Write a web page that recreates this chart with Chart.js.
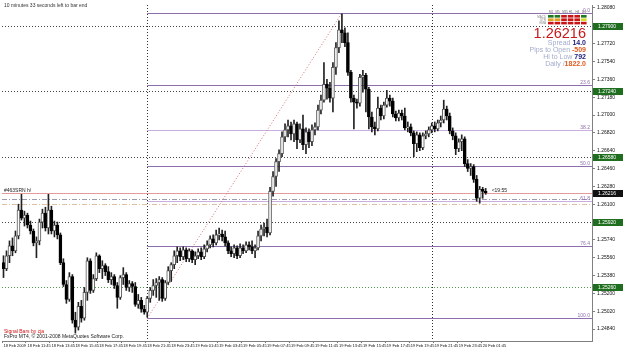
<!DOCTYPE html>
<html><head><meta charset="utf-8">
<script src="https://cdn.jsdelivr.net/npm/chart.js@4/dist/chart.umd.min.js"></script>
<style>html,body{margin:0;padding:0;background:#fff;overflow:hidden}</style>
</head><body>
<canvas id="c" width="625" height="350"></canvas>
<script>
// ---------- DATA ----------
const timeLabels = ['18 Feb 2009','18 Feb 11:45','18 Feb 13:45','18 Feb 15:45','18 Feb 17:45','18 Feb 19:45','18 Feb 21:45','18 Feb 23:45',
 '19 Feb 01:45','19 Feb 03:45','19 Feb 05:45','19 Feb 07:45','19 Feb 09:45','19 Feb 11:45','19 Feb 13:45','19 Feb 15:45',
 '19 Feb 17:45','19 Feb 19:45','19 Feb 21:45','19 Feb 23:45','20 Feb 01:45'];
const barsPerLabel = 8;
const totalSlots = 197;

const opens = [1.2551,1.2545,1.2558,1.2568,1.2563,1.2578,1.2604,1.2596,1.2599,1.2589,
1.2583,1.2571,1.2573,1.2592,1.2601,1.2586,1.2604,1.2583,1.2589,1.2579,
1.2551,1.2529,1.2514,1.2537,1.2493,1.2486,1.2507,1.2495,1.2521,1.2553,
1.2523,1.2535,1.2558,1.2545,1.2548,1.2542,1.2534,1.2537,1.2528,1.2516,
1.2536,1.2539,1.2526,1.2530,1.2527,1.2509,1.2513,1.2504,1.2501,1.2515,
1.2523,1.2528,1.2531,1.2534,1.2515,1.2531,1.2543,1.2549,1.2558,1.2563,
1.2557,1.2564,1.2555,1.2563,1.2554,1.2558,1.2562,1.2557,1.2565,1.2569,
1.2575,1.2571,1.2579,1.2580,1.2577,1.2571,1.2563,1.2560,1.2566,1.2558,
1.2566,1.2563,1.2569,1.2567,1.2563,1.2566,1.2578,1.2585,1.2587,1.2581,
1.2623,1.2638,1.2653,1.2661,1.2678,1.2685,1.2689,1.2681,1.2691,1.2675,
1.2686,1.2670,1.2683,1.2673,1.2685,1.2688,1.2705,1.2715,1.2731,1.2727,
1.2717,1.2748,1.2768,1.2786,1.2783,1.2773,1.2743,1.2717,1.2713,1.2712,
1.2738,1.2740,1.2726,1.2698,1.2688,1.2686,1.2707,1.2699,1.2710,1.2717,
1.2714,1.2701,1.2697,1.2702,1.2699,1.2687,1.2688,1.2682,1.2671,1.2680,
1.2667,1.2679,1.2681,1.2685,1.2689,1.2686,1.2692,1.2695,1.2706,1.2699,
1.2684,1.2679,1.2666,1.2673,1.2676,1.2651,1.2646,1.2648,1.2635,1.2616,
1.2625,1.2623];
const highs = [1.2558,1.2563,1.2573,1.2576,1.2583,1.2610,1.2620,1.2603,1.2601,1.2593,
1.2585,1.2577,1.2595,1.2605,1.2607,1.2620,1.2608,1.2593,1.2592,1.2581,
1.2555,1.2533,1.2541,1.2539,1.2501,1.2511,1.2513,1.2526,1.2556,1.2555,
1.2539,1.2561,1.2559,1.2553,1.2550,1.2547,1.2541,1.2539,1.2531,1.2538,
1.2546,1.2541,1.2533,1.2532,1.2531,1.2519,1.2516,1.2508,1.2517,1.2526,
1.2534,1.2535,1.2537,1.2536,1.2533,1.2547,1.2551,1.2563,1.2567,1.2566,
1.2567,1.2566,1.2565,1.2564,1.2562,1.2565,1.2566,1.2569,1.2573,1.2578,
1.2579,1.2584,1.2586,1.2584,1.2583,1.2573,1.2567,1.2569,1.2568,1.2570,
1.2569,1.2572,1.2572,1.2573,1.2569,1.2583,1.2589,1.2591,1.2595,1.2627,
1.2643,1.2656,1.2665,1.2683,1.2691,1.2695,1.2693,1.2695,1.2693,1.2691,
1.2700,1.2687,1.2686,1.2690,1.2692,1.2710,1.2720,1.2753,1.2736,1.2733,
1.2753,1.2773,1.2795,1.2802,1.2788,1.2783,1.2745,1.2720,1.2716,1.2741,
1.2745,1.2742,1.2728,1.2703,1.2693,1.2718,1.2710,1.2713,1.2725,1.2720,
1.2717,1.2704,1.2705,1.2705,1.2707,1.2693,1.2691,1.2684,1.2683,1.2682,
1.2682,1.2684,1.2688,1.2692,1.2693,1.2695,1.2699,1.2715,1.2709,1.2702,
1.2687,1.2682,1.2676,1.2680,1.2678,1.2655,1.2651,1.2650,1.2639,1.2628,
1.2627,1.2626];
const lows = [1.2536,1.2543,1.2551,1.2558,1.2561,1.2575,1.2594,1.2588,1.2586,1.2580,
1.2568,1.2556,1.2569,1.2586,1.2583,1.2580,1.2580,1.2577,1.2575,1.2549,
1.2527,1.2510,1.2512,1.2490,1.2480,1.2483,1.2491,1.2493,1.2513,1.2520,
1.2521,1.2533,1.2541,1.2535,1.2538,1.2531,1.2529,1.2525,1.2505,1.2514,
1.2529,1.2523,1.2522,1.2521,1.2507,1.2505,1.2501,1.2499,1.2496,1.2511,
1.2518,1.2516,1.2513,1.2512,1.2513,1.2529,1.2532,1.2545,1.2551,1.2553,
1.2554,1.2552,1.2552,1.2551,1.2549,1.2555,1.2554,1.2555,1.2562,1.2566,
1.2567,1.2569,1.2574,1.2573,1.2568,1.2560,1.2557,1.2556,1.2555,1.2556,
1.2560,1.2561,1.2564,1.2560,1.2556,1.2564,1.2573,1.2578,1.2577,1.2579,
1.2618,1.2628,1.2643,1.2658,1.2673,1.2678,1.2675,1.2673,1.2666,1.2672,
1.2665,1.2661,1.2667,1.2669,1.2680,1.2685,1.2701,1.2713,1.2716,1.2713,
1.2703,1.2741,1.2763,1.2773,1.2769,1.2740,1.2713,1.2686,1.2707,1.2709,
1.2723,1.2703,1.2686,1.2683,1.2680,1.2684,1.2695,1.2696,1.2708,1.2709,
1.2698,1.2694,1.2694,1.2695,1.2685,1.2683,1.2679,1.2658,1.2663,1.2664,
1.2665,1.2676,1.2678,1.2682,1.2683,1.2684,1.2688,1.2692,1.2695,1.2681,
1.2675,1.2660,1.2663,1.2664,1.2648,1.2643,1.2639,1.2632,1.2613,1.2611,
1.2616,1.2620];
const closes = [1.2545,1.2558,1.2568,1.2563,1.2578,1.2604,1.2596,1.2599,1.2589,1.2583,
1.2571,1.2573,1.2592,1.2601,1.2586,1.2604,1.2583,1.2589,1.2579,1.2551,
1.2529,1.2514,1.2537,1.2493,1.2486,1.2507,1.2495,1.2521,1.2553,1.2523,
1.2535,1.2558,1.2545,1.2548,1.2542,1.2534,1.2537,1.2528,1.2516,1.2536,
1.2539,1.2526,1.2530,1.2527,1.2509,1.2513,1.2504,1.2501,1.2515,1.2523,
1.2528,1.2531,1.2534,1.2515,1.2531,1.2543,1.2549,1.2558,1.2563,1.2557,
1.2564,1.2555,1.2563,1.2554,1.2558,1.2562,1.2557,1.2565,1.2569,1.2575,
1.2571,1.2579,1.2580,1.2577,1.2571,1.2563,1.2560,1.2566,1.2558,1.2566,
1.2563,1.2569,1.2567,1.2563,1.2566,1.2578,1.2585,1.2587,1.2581,1.2623,
1.2638,1.2653,1.2661,1.2678,1.2685,1.2689,1.2681,1.2691,1.2675,1.2686,
1.2670,1.2683,1.2673,1.2685,1.2688,1.2705,1.2715,1.2731,1.2727,1.2717,
1.2748,1.2768,1.2786,1.2783,1.2773,1.2743,1.2717,1.2713,1.2712,1.2738,
1.2740,1.2726,1.2698,1.2688,1.2686,1.2707,1.2699,1.2710,1.2717,1.2714,
1.2701,1.2697,1.2702,1.2699,1.2687,1.2688,1.2682,1.2671,1.2680,1.2667,
1.2679,1.2681,1.2685,1.2689,1.2686,1.2692,1.2695,1.2706,1.2699,1.2684,
1.2679,1.2666,1.2673,1.2676,1.2651,1.2646,1.2648,1.2635,1.2616,1.2625,
1.2623,1.26216];

const priceTicks = [1.2808,1.2790,1.2772,1.2754,1.2736,1.2718,1.2700,1.2682,1.2664,1.2646,
 1.2628,1.2610,1.2592,1.2574,1.2556,1.2538,1.2520,1.2502,1.2484];
const fibLevels = [1.2803,1.2730,1.2685,1.2649,1.2613,1.2568,1.2495];
const fibNames = ['0.0','23.6','38.2','50.0','61.8','76.4','100.0'];
const fibLight = [false,false,true,false,true,false,false];
const fibStartIdx = 48, fibEndIdx = 113;
const pivotLevels = [1.2790,1.2724,1.2658,1.2592];
const greenLevel = 1.2526;
const bidLevel = 1.26216;
const dashLevels = [1.2615,1.2610];
const separatorIdx = [48,143];
const boxLevels = [1.2790,1.2724,1.2658,1.2592,1.2526];
const bidText = '1.26216';
const infoRows = [['Spread ','14.0','#1c1c7a'],['Pips to Open ','-509','#e05a1e'],['Hi to Low ','792','#1c1c7a'],['Daily /','1822.0','#e05a1e']];
const tfNames = ['M1','M5','M15','H1','H4','D1'];
const signalRows = [
 ['#1f7a1f','#1f7a1f','#c81414','#c81414','#c81414','#1f7a1f'],
 ['#e0a020','#e0a020','#c81414','#c81414','#c81414','#d8d820'],
 ['#c81414','#c81414','#c81414','#c81414','#c81414','#c81414']];

// ---------- BUILD ----------
const FONT = "'Liberation Sans', Arial, sans-serif";
Chart.defaults.font.family = FONT;
const labels = [];
for (let i = 0; i < totalSlots; i++) {
  labels.push(i % barsPerLabel === 0 && i / barsPerLabel < timeLabels.length ? timeLabels[i / barsPerLabel] : '');
}
const wicks = lows.map((l, i) => [l, highs[i]]);
const bodies = opens.map((o, i) => [o, closes[i]]);

function hline(ctx, x1, x2, yv, color, dash, lw) {
  const yy = Math.round(yv) + 0.5;
  ctx.save(); ctx.strokeStyle = color; ctx.lineWidth = lw || 1; ctx.setLineDash(dash || []);
  ctx.beginPath(); ctx.moveTo(x1, yy); ctx.lineTo(x2, yy); ctx.stroke(); ctx.restore();
}

const overlay = {
  id: 'overlay',
  beforeDatasetsDraw(chart) {
    const {ctx, chartArea: a, scales: {x, y}} = chart;
    ctx.save();
    ctx.beginPath(); ctx.rect(a.left, a.top, a.right - a.left, a.bottom - a.top); ctx.clip();
    pivotLevels.forEach(v => hline(ctx, a.left, a.right, y.getPixelForValue(v), '#444', [1, 2]));
    hline(ctx, a.left, a.right, y.getPixelForValue(greenLevel), '#4f9a4f', [1, 2]);
    hline(ctx, a.left, a.right, y.getPixelForValue(bidLevel), '#e39a9a');
    hline(ctx, a.left, a.right, y.getPixelForValue(dashLevels[0]), '#9a9ab0', [5, 2, 1, 2]);
    hline(ctx, a.left, a.right, y.getPixelForValue(dashLevels[1]), '#dfc0a0', [5, 2, 1, 2]);
    const fx = x.getPixelForValue(fibStartIdx);
    fibLevels.forEach((v, k) => hline(ctx, fx, a.right, y.getPixelForValue(v), fibLight[k] ? '#c9aee0' : '#8e6fae'));
    separatorIdx.forEach(i => {
      const xx = Math.round(x.getPixelForValue(i)) + 0.5;
      ctx.save(); ctx.strokeStyle = '#333'; ctx.setLineDash([1, 2]);
      ctx.beginPath(); ctx.moveTo(xx, a.top); ctx.lineTo(xx, a.bottom); ctx.stroke(); ctx.restore();
    });
    ctx.save(); ctx.strokeStyle = '#d07070'; ctx.setLineDash([1, 2]);
    ctx.beginPath();
    ctx.moveTo(x.getPixelForValue(fibStartIdx), y.getPixelForValue(fibLevels[6]));
    ctx.lineTo(x.getPixelForValue(fibEndIdx), y.getPixelForValue(fibLevels[0]));
    ctx.stroke(); ctx.restore();
    ctx.restore();
  },
  afterDraw(chart) {
    const {ctx, chartArea: a, scales: {x, y}} = chart;
    ctx.save();
    ctx.textBaseline = 'alphabetic';
    ctx.font = '5px ' + FONT; ctx.fillStyle = '#8e6fae'; ctx.textAlign = 'right';
    fibLevels.forEach((v, k) => ctx.fillText(fibNames[k], a.right - 2, y.getPixelForValue(v) - 1));
    ctx.textAlign = 'left'; ctx.fillStyle = '#333'; ctx.font = '5px ' + FONT;
    ctx.fillText('10 minutes 33 seconds left to bar end', 4, 7);
    ctx.fillStyle = '#d01010'; ctx.fillText('Signal Bars by cja', 4, 333);
    ctx.fillStyle = '#222'; ctx.fillText('FxPro MT4, \u00a9 2001-2008 MetaQuotes Software Corp.', 4, 338);
    ctx.fillStyle = '#222'; ctx.fillText('#463SRN h/', 4, y.getPixelForValue(bidLevel) - 1);
    ctx.fillText('<19:55', x.getPixelForValue(opens.length + 1), y.getPixelForValue(bidLevel) - 1);
    ctx.font = '3px ' + FONT; ctx.fillStyle = '#666';
    tfNames.forEach((t, c) => ctx.fillText(t, 549 + c * 6.6, 13));
    signalRows.forEach((row, r) => row.forEach((col, c) => {
      ctx.fillStyle = col; ctx.fillRect(548 + c * 6.6, 15 + r * 3.4, 5.6, 2.6);
    }));
    ctx.fillStyle = '#888'; ctx.textAlign = 'right';
    ['MACD', 'STR', 'EMA'].forEach((t, r) => ctx.fillText(t, 546, 17.5 + r * 3.4));
    ctx.textAlign = 'right'; ctx.fillStyle = '#c81818';
    ctx.font = '14.5px ' + FONT; ctx.fillText(bidText, 586, 38);
    infoRows.forEach((r, k) => {
      const yy = 45 + k * 7;
      ctx.font = 'bold 7px ' + FONT; ctx.fillStyle = r[2];
      const w = ctx.measureText(r[1]).width;
      ctx.fillText(r[1], 586, yy);
      ctx.font = '7px ' + FONT; ctx.fillStyle = '#a4accc';
      ctx.fillText(r[0], 586 - w, yy);
    });
    ctx.textAlign = 'left'; ctx.font = '5px ' + FONT;
    boxLevels.forEach(v => {
      const yy = Math.round(y.getPixelForValue(v));
      ctx.fillStyle = '#1f6e1f'; ctx.fillRect(a.right + 1, yy - 3, 30, 7);
      ctx.fillStyle = '#fff'; ctx.fillText(v.toFixed(5), a.right + 6, yy + 2);
    });
    const by = Math.round(y.getPixelForValue(bidLevel));
    ctx.fillStyle = '#111'; ctx.fillRect(a.right + 1, by - 3, 30, 7);
    ctx.fillStyle = '#fff'; ctx.fillText(bidText, a.right + 6, by + 2);
    ctx.restore();
  }
};

new Chart(document.getElementById('c'), {
  type: 'bar',
  data: {
    labels,
    datasets: [
      {data: wicks, backgroundColor: '#222', borderWidth: 0, barThickness: 1, grouped: false, order: 2},
      {data: bodies,
       backgroundColor: c => (closes[c.dataIndex] >= opens[c.dataIndex] ? '#ffffff' : '#000000'),
       borderColor: c => (closes[c.dataIndex] >= opens[c.dataIndex] ? '#555555' : '#000000'),
       borderWidth: 1, borderSkipped: false, barThickness: 3, minBarLength: 1,
       grouped: false, order: 1}
    ]
  },
  options: {
    responsive: false, animation: false, devicePixelRatio: 1,
    layout: {padding: {left: 2, top: 2, right: 0, bottom: 0}},
    plugins: {legend: {display: false}, tooltip: {enabled: false}},
    scales: {
      x: {
        grid: {display: true, drawOnChartArea: false, tickLength: 2,
               color: c => (c.tick && c.tick.label ? '#777' : 'rgba(0,0,0,0)')},
        border: {display: true, color: '#808080'},
        ticks: {autoSkip: false, maxRotation: 0, minRotation: 0, align: 'start', padding: 0,
                font: {size: 4}, color: '#111'},
        afterFit(s) { s.height = 9; }
      },
      y: {
        position: 'right', min: 1.2472, max: 1.2811,
        afterBuildTicks(s) { s.ticks = priceTicks.map(v => ({value: v})); },
        ticks: {font: {size: 5}, padding: 2, color: '#111', callback: v => Number(v).toFixed(5)},
        grid: {drawOnChartArea: false, tickLength: 3, color: '#808080'},
        border: {display: true, color: '#808080'},
        afterFit(s) { s.width = 33; }
      }
    }
  },
  plugins: [overlay]
});
</script>
</body></html>
